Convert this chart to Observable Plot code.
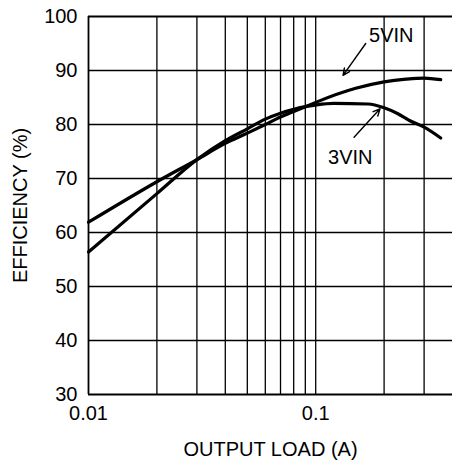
<!DOCTYPE html>
<html><head><meta charset="utf-8">
<script src="https://cdn.jsdelivr.net/npm/d3@7"></script>
<script src="https://cdn.jsdelivr.net/npm/@observablehq/plot@0.6"></script>
<style>body{margin:0;background:#fff}</style>
</head><body><div id="chart"></div>
<script>
const load5 = [0.01, 0.02, 0.03, 0.04, 0.05, 0.06, 0.07, 0.08, 0.09, 0.1, 0.15, 0.2, 0.25, 0.3, 0.355];
const eff5  = [61.9, 69.4, 73.5, 76.5, 78.4, 80.0, 81.4, 82.4, 83.3, 84.1, 86.7, 87.9, 88.4, 88.6, 88.3];
const load3 = [0.01, 0.02, 0.03, 0.04, 0.05, 0.06, 0.07, 0.08, 0.09, 0.1, 0.12, 0.17, 0.2, 0.23, 0.26, 0.3, 0.355];
const eff3  = [56.4, 67.2, 73.5, 77.0, 79.2, 81.0, 82.1, 82.8, 83.3, 83.6, 83.9, 83.8, 83.1, 82.0, 80.7, 79.5, 77.5];
const gridX = [0.02, 0.03, 0.04, 0.05, 0.06, 0.07, 0.08, 0.09, 0.1, 0.2, 0.3];
const gridY = [40, 50, 60, 70, 80, 90];
const xTicks = [0.01, 0.1];
const yTicks = [30, 40, 50, 60, 70, 80, 90, 100];
const labels = [
  {text: "5VIN", x: 0.215, y: 96.5},
  {text: "3VIN", x: 0.142, y: 73.9}
];
const arrows = [
  {x1: 0.166, y1: 95.0, x2: 0.1319, y2: 89.1},
  {x1: 0.1475, y1: 77.65, x2: 0.1919, y2: 82.9}
];

const s5 = load5.map((x, i) => ({x, y: eff5[i]}));
const s3 = load3.map((x, i) => ({x, y: eff3[i]}));

const chart = Plot.plot({
  width: 452,
  height: 464,
  marginLeft: 88,
  marginTop: 16,
  marginRight: 0,
  marginBottom: 70,
  style: {fontFamily: "'Liberation Sans', Arial, sans-serif", fontSize: "20px", color: "#000", background: "#fff"},
  x: {type: "log", domain: [0.01, 0.4], ticks: xTicks, tickFormat: d => String(d), tickSize: 0, tickPadding: 11, label: "OUTPUT LOAD (A)", labelAnchor: "center", labelOffset: 61, labelArrow: "none"},
  y: {domain: [30, 100], ticks: yTicks, tickSize: 0, tickPadding: 11, label: "EFFICIENCY (%)", labelAnchor: "center", labelOffset: 76, labelArrow: "none"},
  marks: [
    Plot.ruleX(gridX, {stroke: "#000", strokeWidth: 1.3}),
    Plot.ruleY(gridY, {stroke: "#000", strokeWidth: 1.3}),
    Plot.ruleX([0.01], {stroke: "#000", strokeWidth: 1.8}),
    Plot.ruleY([30, 100], {stroke: "#000", strokeWidth: 1.8}),
    Plot.line(s5, {x: "x", y: "y", stroke: "#000", strokeWidth: 3.2, curve: "monotone-x"}),
    Plot.line(s3, {x: "x", y: "y", stroke: "#000", strokeWidth: 3.2, curve: "monotone-x"}),
    Plot.arrow(arrows, {x1: "x1", y1: "y1", x2: "x2", y2: "y2", stroke: "#000", strokeWidth: 1.4, headLength: 8, headAngle: 50}),
    Plot.text(labels, {x: "x", y: "y", text: "text", fill: "#000", fontSize: 20})
  ]
});
document.getElementById("chart").append(chart);
</script>
</body></html>
